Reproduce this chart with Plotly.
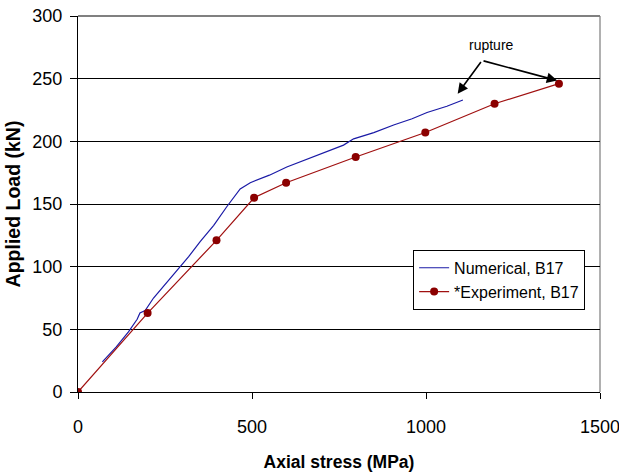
import plotly.graph_objects as go

# Numerical, B17 (blue)
num_x = [70, 110, 145, 170, 178, 193, 217, 250, 284, 318, 351, 390, 428, 450, 466, 495, 550, 600, 680, 763, 792, 850, 907, 960, 1003, 1060, 1106]
num_y = [24, 36, 48, 58, 63, 65, 75, 86, 97, 108, 120, 133, 148, 156, 162, 167, 173, 179.5, 188, 197, 202, 207, 213, 218, 223, 228, 233]

# *Experiment, B17 (dark red)
exp_x = [0, 200, 398, 506, 598, 798, 998, 1197, 1382]
exp_y = [0, 63, 121, 155, 167, 187.5, 207, 230, 246]

x_ticks = [0, 500, 1000, 1500]
y_ticks = [0, 50, 100, 150, 200, 250, 300]

SANS = "Liberation Sans, Arial, sans-serif"

fig = go.Figure()
fig.add_trace(go.Scatter(x=num_x, y=num_y, mode="lines", name="Numerical, B17",
                         line=dict(color="#1a1aa6", width=1.2)))
fig.add_trace(go.Scatter(x=exp_x, y=exp_y, mode="lines+markers", name="*Experiment, B17",
                         line=dict(color="#a01010", width=1.2),
                         marker=dict(color="#8b0000", size=8)))

# rupture annotations
fig.add_annotation(x=1187, y=277, text="rupture", showarrow=False,
                   font=dict(family=SANS, size=14, color="black"))
for hx, hy in [(1091, 238), (1377, 248.5)]:
    fig.add_annotation(x=hx, y=hy, ax=1161, ay=264.5, axref="x", ayref="y",
                       xref="x", yref="y", text="", showarrow=True,
                       arrowhead=2, arrowsize=1.3, arrowwidth=1.6, arrowcolor="black")

fig.update_layout(
    width=619, height=476,
    margin=dict(l=78, r=19, t=16, b=84),
    paper_bgcolor="white", plot_bgcolor="white",
    font=dict(family=SANS, size=18, color="black"),
    showlegend=True,
    legend=dict(x=0.642, y=0.378, xanchor="left", yanchor="top",
                bgcolor="white", bordercolor="black", borderwidth=1,
                font=dict(family=SANS, size=16), tracegroupgap=0),
    xaxis=dict(range=[0, 1500], tickvals=x_ticks, showgrid=False,
               showline=True, linecolor="black", linewidth=1,
               ticks="outside", ticklen=6, tickcolor="black",
               zeroline=False, ticklabelstandoff=12, automargin=False,
               ticklabeloverflow="allow",
               title=dict(text="<b>Axial stress (MPa)</b>",
                          font=dict(family=SANS, size=17.5), standoff=20)),
    yaxis=dict(range=[0, 300], tickvals=y_ticks, showgrid=True,
               gridcolor="black", gridwidth=1,
               showline=True, linecolor="black", linewidth=1,
               ticks="outside", ticklen=7, tickcolor="black",
               zeroline=False, ticklabelstandoff=4, automargin=False,
               ticklabeloverflow="allow",
               title=dict(text="<b>Applied Load (kN)</b>",
                          font=dict(family=SANS, size=19.5), standoff=6)),
)
# grey right/top frame
fig.add_shape(type="line", xref="paper", yref="paper", x0=1, x1=1, y0=0, y1=1,
              line=dict(color="#b0b0b0", width=2), layer="below")
fig.add_shape(type="line", xref="paper", yref="paper", x0=0, x1=1, y0=1, y1=1,
              line=dict(color="#808080", width=2), layer="below")

fig.write_html("out.html")
